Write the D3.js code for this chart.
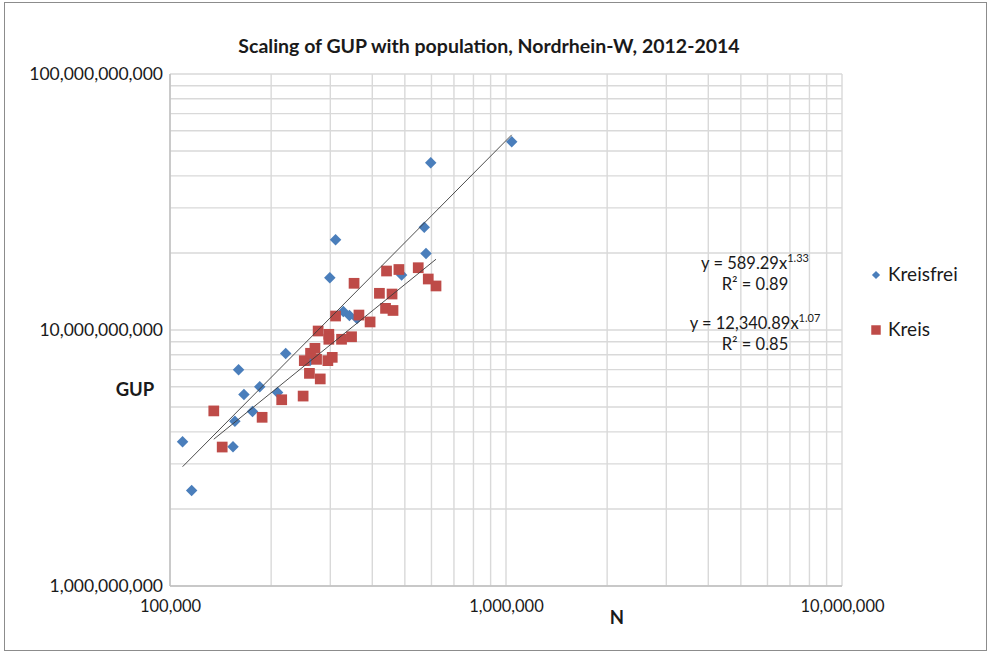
<!DOCTYPE html>
<html>
<head>
<meta charset="utf-8">
<script src="https://cdn.jsdelivr.net/npm/d3@7"></script>
<style>
  body { margin: 0; background: #fff; }
  svg text { font-family: Lato, "Open Sans", sans-serif; fill: #1a1a1a; }
</style>
</head>
<body>
<div id="chart"></div>
<script>
// GUP vs population, log-log scatter with power trendlines

// Kreisfreie Staedte
const kreisfreiN = [1040000, 597000, 571000, 578000, 489000, 311000, 299000, 328000, 342000, 360000,
    221000, 160000, 166000, 185000, 209000, 176000, 156000, 154000, 109000, 116000, 261000];
const kreisfreiGUP = [54.4e9, 45.0e9, 25.2e9, 19.9e9, 16.4e9, 22.5e9, 16.0e9, 11.8e9, 11.4e9, 11.1e9,
    8.1e9, 7.0e9, 5.6e9, 6.0e9, 5.7e9, 4.8e9, 4.4e9, 3.5e9, 3.66e9, 2.36e9, 7.6e9];

// Kreise
const kreisN = [135000, 143000, 188000, 215000, 249000, 260000, 280000, 251000, 262000, 270000,
    273000, 295000, 304000, 276000, 297000, 297000, 324000, 347000, 311000, 365000,
    394000, 353000, 438000, 461000, 420000, 458000, 441000, 480000, 548000, 587000, 619000];
const kreisGUP = [4.83e9, 3.49e9, 4.56e9, 5.34e9, 5.52e9, 6.77e9, 6.44e9, 7.59e9, 8.11e9, 8.48e9,
    7.68e9, 7.59e9, 7.82e9, 9.91e9, 9.62e9, 9.20e9, 9.20e9, 9.41e9, 11.34e9, 11.44e9,
    10.75e9, 15.22e9, 12.15e9, 11.92e9, 13.91e9, 13.82e9, 17.00e9, 17.23e9, 17.51e9, 15.82e9, 14.86e9];

const seriesNames = ['Kreisfrei', 'Kreis'];
const seriesColors = ['#4a7ebb', '#be4b48'];
const trendLabels = [
    { eq: 'y = 589.29x', exp: '1.33', r2: 'R² = 0.89' },
    { eq: 'y = 12,340.89x', exp: '1.07', r2: 'R² = 0.85' }
];
const xTickValues = [1e5, 1e6, 1e7];
const yTickValues = [1e9, 1e10, 1e11];

const W = 991, H = 654;
const plot = { left: 170, right: 842, top: 74, bottom: 586 };

const svg = d3.select('#chart')
    .append('svg')
    .attr('width', W)
    .attr('height', H);

// outer chart border
svg.append('rect')
    .attr('x', 4.5).attr('y', 2.5)
    .attr('width', 982).attr('height', 648)
    .attr('fill', 'none')
    .attr('stroke', '#8c8c8c')
    .attr('stroke-width', 1);

const x = d3.scaleLog().domain([1e5, 1e7]).range([plot.left, plot.right]);
const y = d3.scaleLog().domain([1e9, 1e11]).range([plot.bottom, plot.top]);

// gridlines (major + minor)
const grid = svg.append('g').attr('class', 'grid');
grid.selectAll('.vline')
    .data(x.ticks())
    .enter().append('line')
    .attr('x1', d => x(d)).attr('x2', d => x(d))
    .attr('y1', plot.top).attr('y2', plot.bottom)
    .attr('stroke', '#d9d9d9')
    .attr('stroke-width', 1.4);
grid.selectAll('.hline')
    .data(y.ticks())
    .enter().append('line')
    .attr('y1', d => y(d)).attr('y2', d => y(d))
    .attr('x1', plot.left).attr('x2', plot.right)
    .attr('stroke', '#d9d9d9')
    .attr('stroke-width', 1.4);

// axis lines
svg.append('line')
    .attr('x1', plot.left).attr('x2', plot.right)
    .attr('y1', plot.bottom).attr('y2', plot.bottom)
    .attr('stroke', '#bfbfbf').attr('stroke-width', 1.4);
svg.append('line')
    .attr('x1', plot.left).attr('x2', plot.left)
    .attr('y1', plot.top).attr('y2', plot.bottom)
    .attr('stroke', '#bfbfbf').attr('stroke-width', 1.4);

// axes (labels only)
const xAxis = d3.axisBottom(x)
    .tickValues(xTickValues)
    .tickFormat(d3.format(','))
    .tickSize(0)
    .tickPadding(14);
svg.append('g')
    .attr('transform', `translate(0, ${plot.bottom})`)
    .call(xAxis)
    .call(g => g.select('.domain').remove())
    .selectAll('text')
    .style('font-family', 'Lato, sans-serif')
    .style('font-size', '16.5px')
    .attr('fill', '#1a1a1a');

const yAxis = d3.axisLeft(y)
    .tickValues(yTickValues)
    .tickFormat(d3.format(','))
    .tickSize(0)
    .tickPadding(7);
svg.append('g')
    .attr('transform', `translate(${plot.left}, 0)`)
    .call(yAxis)
    .call(g => g.select('.domain').remove())
    .selectAll('text')
    .style('font-family', 'Lato, sans-serif')
    .style('font-size', '17.5px')
    .attr('fill', '#1a1a1a');

// title and axis titles
svg.append('text')
    .attr('x', 489).attr('y', 53)
    .attr('text-anchor', 'middle')
    .style('font-size', '19.5px')
    .style('font-weight', 'bold')
    .text('Scaling of GUP with population, Nordrhein-W, 2012-2014');

svg.append('text')
    .attr('x', 135).attr('y', 396)
    .attr('text-anchor', 'middle')
    .style('font-size', '18.5px')
    .style('font-weight', 'bold')
    .text('GUP');

svg.append('text')
    .attr('x', 617).attr('y', 624)
    .attr('text-anchor', 'middle')
    .style('font-size', '18.5px')
    .style('font-weight', 'bold')
    .text('N');

// markers
const series = [
    { n: kreisfreiN, v: kreisfreiGUP },
    { n: kreisN, v: kreisGUP }
];
const symbols = [
    d3.symbol().type(d3.symbolSquare).size(66),   // rotated -> diamond
    d3.symbol().type(d3.symbolSquare).size(115)
];

series.forEach((s, i) => {
    const pts = s.n.map((n, k) => ({ n: n, v: s.v[k] }));
    svg.append('g')
        .selectAll('path')
        .data(pts)
        .enter().append('path')
        .attr('d', symbols[i])
        .attr('transform', d => `translate(${x(d.n)}, ${y(d.v)})` + (i === 0 ? ' rotate(45)' : ''))
        .attr('fill', seriesColors[i]);
});

// power trendlines (least squares in log-log space)
series.forEach(s => {
    const lx = s.n.map(Math.log10), ly = s.v.map(Math.log10);
    const mx = d3.mean(lx), my = d3.mean(ly);
    const b = d3.sum(lx, (d, k) => (d - mx) * (ly[k] - my)) / d3.sum(lx, d => (d - mx) ** 2);
    const a = my - b * mx;
    const ext = d3.extent(s.n);
    svg.append('line')
        .attr('x1', x(ext[0])).attr('y1', y(Math.pow(10, a + b * Math.log10(ext[0]))))
        .attr('x2', x(ext[1])).attr('y2', y(Math.pow(10, a + b * Math.log10(ext[1]))))
        .attr('stroke', '#3a3a3a')
        .attr('stroke-width', 0.9);
});

// trendline labels
const labelY = [269, 329];
trendLabels.forEach((t, i) => {
    const eq = svg.append('text')
        .attr('x', 755).attr('y', labelY[i])
        .attr('text-anchor', 'middle')
        .style('font-size', '16.5px');
    eq.append('tspan').text(t.eq);
    eq.append('tspan')
        .attr('dy', -7)
        .style('font-size', '11px')
        .text(t.exp);
    svg.append('text')
        .attr('x', 755).attr('y', labelY[i] + 21)
        .attr('text-anchor', 'middle')
        .style('font-size', '16.5px')
        .text(t.r2);
});

// legend
const legend = svg.append('g');
seriesNames.forEach((name, i) => {
    const ly = 275 + i * 55;
    legend.append('path')
        .attr('d', d3.symbol().type(d3.symbolSquare).size(i === 0 ? 34 : 90))
        .attr('transform', `translate(876, ${ly})` + (i === 0 ? ' rotate(45)' : ''))
        .attr('fill', seriesColors[i]);
    legend.append('text')
        .attr('x', 888).attr('y', ly + 6)
        .style('font-size', '19px')
        .text(name);
});
</script>
</body>
</html>
